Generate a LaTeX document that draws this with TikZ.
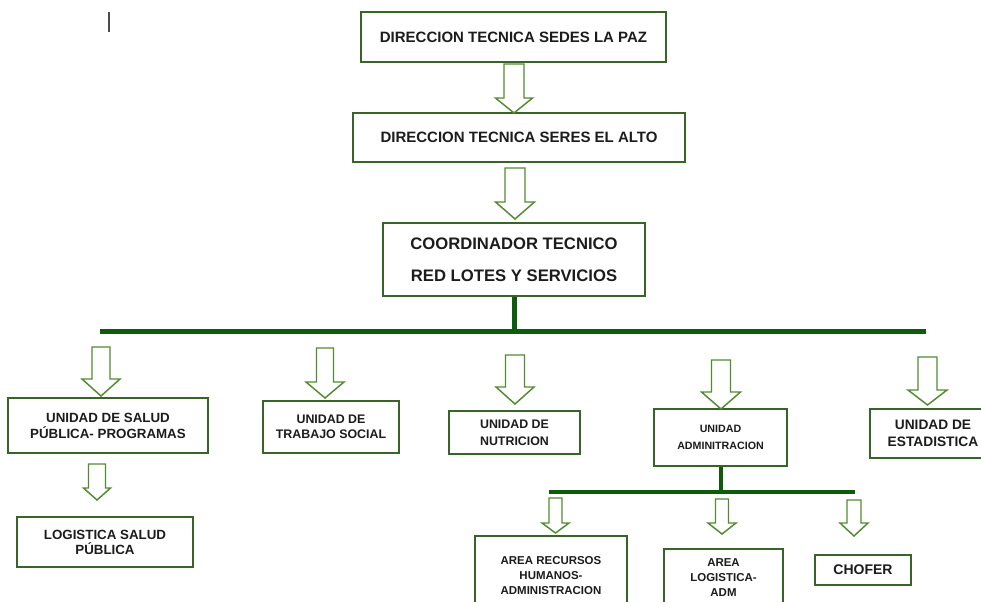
\documentclass[tikz,border=0pt]{standalone}
\usepackage{fontspec}
\setmainfont{Liberation Sans}

\definecolor{boxgreen}{RGB}{56,100,40}
\definecolor{arrowgreen}{RGB}{84,138,48}
\definecolor{bargreen}{RGB}{12,92,12}
\definecolor{inkgray}{RGB}{28,28,28}

\newcommand{\boxfont}[2]{\fontsize{#1}{#2}\selectfont\bfseries}
% block arrow: centre x, top y, half shaft, half head, head start y, tip y
\newcommand{\blockarrow}[6]{%
  \draw[blockline] ({#1-#3},#2) -- ({#1+#3},#2) -- ({#1+#3},#5) -- ({#1+#4},#5) -- (#1,#6) -- ({#1-#4},#5) -- ({#1-#3},#5) -- cycle ;}

\tikzset{
  unitbox/.style 2 args={draw=boxgreen, line width=1.1pt, fill=white, inner sep=0pt,
    minimum width=#1*0.75pt, minimum height=#2*0.75pt, align=center, text=inkgray},
  blockline/.style={draw=arrowgreen, line width=1.1pt, fill=white},
  trunk/.style={draw=bargreen, line width=3.75pt},
  branch/.style={draw=bargreen, line width=3pt},
}

\begin{document}
\begin{tikzpicture}[x=0.75pt,y=0.75pt,yscale=-1,xscale=1]
        \useasboundingbox (0,0) rectangle (981,601);
        \clip (0,0) rectangle (981,601);

        %Straight Lines (cursor mark)
        \draw [line width=1.1pt, gray!60!black] (109,12) -- (109,32) ;

        % Text Node
        \node [unitbox={305}{50}, font=\boxfont{11.25}{13}] (sedes) at (513.5,37) {DIRECCION TECNICA SEDES LA PAZ};
        % Text Node
        \node [unitbox={332}{49}, font=\boxfont{11.25}{13}] (seres) at (519,137.5) {DIRECCION TECNICA SERES EL ALTO};
        % Text Node
        \node [unitbox={262}{73}, font=\boxfont{12.5}{24}] (coordinador) at (514,259.5) {COORDINADOR TECNICO\\RED LOTES Y SERVICIOS};

        %Shape: Block Arrow
        \blockarrow{514}{64}{10}{18.5}{98}{113}
        \blockarrow{515}{168}{10}{19.5}{202}{219}

        %Straight Lines
        \coordinate (barL) at (100,331);
        \coordinate (barR) at (926,331);
        \draw [trunk] (coordinador.south) -- (coordinador.south |- barL) ;
        \draw [trunk] (barL) -- (barR) ;

        % Text Node
        \node [unitbox={200}{55}, font=\boxfont{10}{12}] (salud) at (108,425.5) {UNIDAD DE SALUD\\PÚBLICA- PROGRAMAS};
        % Text Node
        \node [unitbox={176}{50}, font=\boxfont{10}{11.25}] (logsalud) at (105,542) {LOGISTICA SALUD\\PÚBLICA};
        % Text Node
        \node [unitbox={136}{52}, font=\boxfont{9.3}{11.6}] (trabajo) at (331,427) {UNIDAD DE\\TRABAJO SOCIAL};
        % Text Node
        \node [unitbox={131}{43}, font=\boxfont{9.3}{12.5}] (nutricion) at (514.5,432.5) {UNIDAD DE\\NUTRICION};
        % Text Node
        \node [unitbox={133}{57}, font=\boxfont{8}{12.4}] (admin) at (720.5,437.5) {UNIDAD\\ADMINITRACION};
        % Text Node
        \node [unitbox={126}{49}, font=\boxfont{10.3}{12.4}] (estadistica) at (933,433.5) {UNIDAD DE\\ESTADISTICA};

        %Shape: Block Arrow
        \blockarrow{101}{347}{9}{19}{379}{396}
        \blockarrow{97}{464}{8.5}{13.5}{488}{500}
        \blockarrow{325}{348}{8.5}{19}{382}{398}
        \blockarrow{515}{355}{9.5}{19}{387}{404}
        \blockarrow{721}{360}{9.5}{19.5}{392}{409}
        \blockarrow{927.5}{357}{9.5}{19.5}{390}{405}

        %Straight Lines
        \coordinate (subL) at (549,492);
        \coordinate (subR) at (855,492);
        \draw [branch] (admin.south) -- (admin.south |- subL) ;
        \draw [branch] (subL) -- (subR) ;

        % Text Node
        \node [unitbox={152}{79}, font=\boxfont{8.6}{11.25}] (rrhh) at (551,575.5) {AREA RECURSOS\\HUMANOS-\\ADMINISTRACION};
        % Text Node
        \node [unitbox={119}{57}, font=\boxfont{8.6}{11.4}] (logadm) at (723.5,577.5) {AREA\\LOGISTICA-\\ADM};
        % Text Node
        \node [unitbox={96}{30}, font=\boxfont{10.5}{12}] (chofer) at (863,570) {CHOFER};

        %Shape: Block Arrow
        \blockarrow{555.5}{498}{6.5}{13.5}{523}{533}
        \blockarrow{722}{499}{6.5}{14}{523}{534}
        \blockarrow{854}{500}{7}{14}{523}{536}

\end{tikzpicture}
\end{document}
